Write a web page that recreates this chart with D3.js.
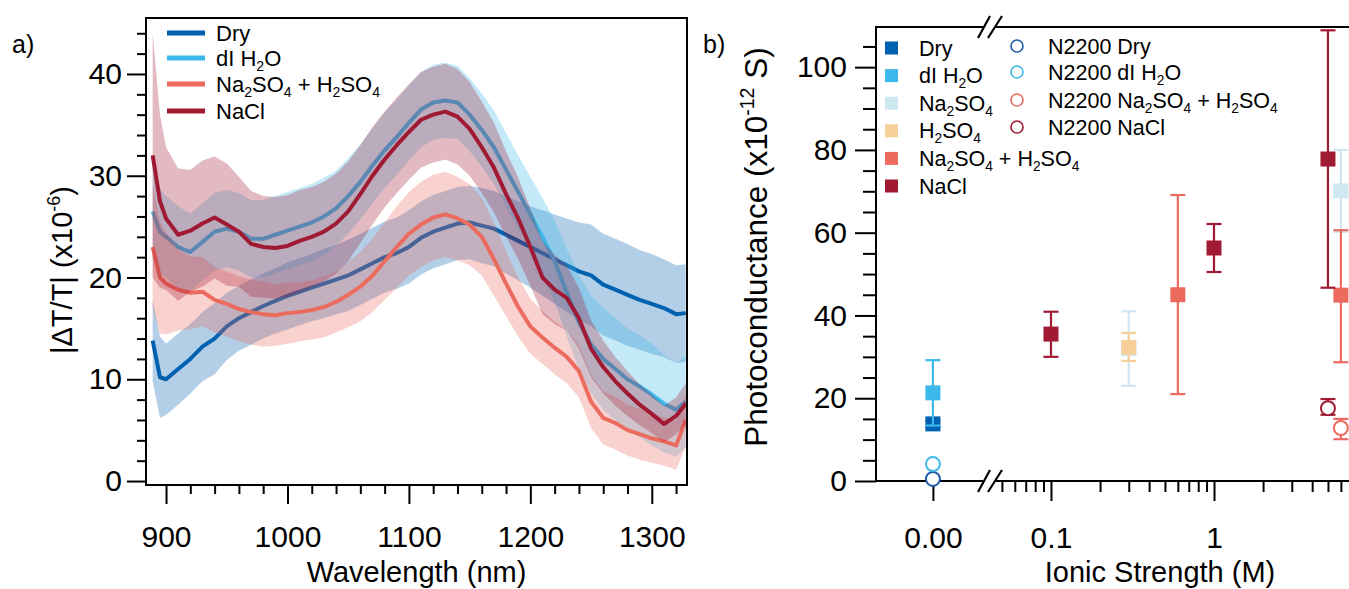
<!DOCTYPE html>
<html>
<head>
<meta charset="utf-8">
<script src="https://cdn.jsdelivr.net/npm/d3@7"></script>
<style>
  body { margin: 0; background: #fff; }
  svg { font-family: "Liberation Sans", Arial, sans-serif; }
</style>
</head>
<body>
<script>

// ---- panel a : transient transmission spectra ----
const wavelength = [889, 895, 900, 910, 920, 930, 940, 950, 960, 970, 980, 990, 1000, 1010, 1020, 1030, 1040, 1050, 1060, 1070, 1080, 1090, 1100, 1110, 1120, 1130, 1140, 1150, 1160, 1170, 1180, 1190, 1200, 1210, 1220, 1230, 1240, 1250, 1260, 1270, 1280, 1290, 1300, 1310, 1320, 1328];

const dryMean = [13.8, 10.2, 10.0, 11.0, 12.0, 13.2, 14.0, 15.2, 16.0, 16.6, 17.2, 17.7, 18.2, 18.6, 19.0, 19.4, 19.8, 20.2, 20.8, 21.4, 22.0, 22.4, 23.0, 23.9, 24.5, 24.9, 25.3, 25.4, 25.1, 24.8, 24.2, 23.6, 23.0, 22.4, 21.8, 21.2, 20.6, 20.2, 19.3, 18.8, 18.3, 17.8, 17.4, 17.0, 16.4, 16.5];
const drySd = [4.0, 4.0, 3.5, 3.5, 3.4, 3.4, 3.5, 3.3, 3.2, 3.2, 3.2, 3.2, 3.3, 3.3, 3.3, 3.4, 3.4, 3.5, 3.5, 3.5, 3.5, 3.5, 3.6, 3.6, 3.6, 3.6, 3.6, 3.6, 3.7, 3.7, 3.8, 3.9, 4.0, 4.2, 4.4, 4.6, 4.8, 5.0, 5.0, 5.0, 5.0, 4.9, 4.9, 4.8, 4.8, 4.8];

const waterMean = [26.5, 24.5, 24.0, 23.0, 22.5, 23.5, 24.5, 24.8, 24.5, 23.8, 23.8, 24.2, 24.6, 25.0, 25.4, 26.0, 26.8, 28.0, 29.4, 31.0, 32.5, 33.8, 35.2, 36.5, 37.2, 37.4, 37.2, 36.0, 34.5, 32.8, 30.6, 28.4, 26.2, 24.0, 21.6, 18.5, 15.6, 13.4, 12.0, 11.0, 10.0, 9.3, 8.5, 7.6, 7.0, 7.8];
const waterSd = [4.5, 4.2, 4.0, 4.0, 3.8, 3.8, 3.8, 3.8, 3.8, 3.8, 3.8, 3.8, 3.8, 3.8, 3.8, 3.8, 3.7, 3.7, 3.7, 3.7, 3.7, 3.7, 3.7, 3.7, 3.7, 3.7, 3.6, 3.6, 3.6, 3.6, 3.6, 3.6, 3.7, 3.8, 4.0, 4.3, 4.6, 4.8, 5.0, 5.0, 5.0, 5.0, 5.0, 4.8, 4.6, 4.5];

const mixMean = [23.0, 20.0, 19.4, 18.8, 18.5, 18.6, 17.8, 17.4, 16.9, 16.6, 16.4, 16.3, 16.5, 16.6, 16.8, 17.1, 17.6, 18.3, 19.1, 20.2, 21.6, 23.0, 24.3, 25.2, 25.9, 26.2, 25.8, 25.2, 24.0, 21.8, 19.4, 17.1, 15.2, 14.1, 13.1, 12.2, 10.8, 7.8, 6.2, 5.7, 5.0, 4.6, 4.2, 3.9, 3.5, 6.0];
const mixSd = [6.0, 5.5, 5.0, 4.0, 3.6, 3.4, 3.2, 3.2, 3.2, 3.2, 3.2, 3.0, 3.0, 2.9, 2.9, 3.0, 3.0, 3.2, 3.4, 3.6, 3.8, 4.0, 4.1, 4.2, 4.2, 4.2, 4.1, 4.0, 3.8, 3.6, 3.2, 2.9, 2.7, 2.6, 2.6, 2.6, 2.6, 2.6, 2.6, 2.6, 2.5, 2.5, 2.4, 2.4, 2.4, 2.6];

const naclMean = [32.0, 27.5, 25.8, 24.2, 24.6, 25.3, 25.9, 25.2, 24.5, 23.3, 23.0, 22.9, 23.1, 23.6, 24.0, 24.5, 25.3, 26.5, 28.2, 30.0, 31.6, 33.0, 34.3, 35.5, 36.0, 36.3, 35.8, 34.6, 32.8, 30.8, 28.2, 25.8, 23.0, 20.0, 18.8, 18.0, 16.0, 13.0, 11.2, 9.8, 8.6, 7.5, 6.6, 5.6, 6.4, 7.6];
const naclSd = [12.0, 8.5, 7.0, 6.5, 6.0, 6.2, 6.0, 6.0, 5.4, 5.2, 5.0, 5.0, 5.0, 5.0, 4.9, 4.9, 4.9, 4.9, 4.8, 4.8, 4.7, 4.7, 4.7, 4.7, 4.7, 4.7, 4.7, 4.6, 4.5, 4.4, 4.2, 4.0, 3.8, 3.6, 3.4, 3.2, 3.0, 2.8, 2.6, 2.4, 2.2, 2.0, 1.9, 1.8, 1.8, 2.0];

const spectraNames = ['Dry', 'dI H_2O', 'Na_2SO_4 + H_2SO_4', 'NaCl'];
const spectraColors = ['#0061b0', '#3cb8ea', '#ec6b5f', '#a11a33'];
const spectraMean = [dryMean, waterMean, mixMean, naclMean];
const spectraSd = [drySd, waterSd, mixSd, naclSd];

// ---- panel b : photoconductance ----
const pointSeries = ['Dry', 'dI H_2O', 'Na_2SO_4', 'Na_2SO_4', 'H_2SO_4', 'Na_2SO_4 + H_2SO_4', 'Na_2SO_4 + H_2SO_4', 'NaCl', 'NaCl', 'NaCl'];
const pointIonic = [0, 0, 0.3, 6, 0.3, 0.6, 6, 0.1, 1, 5];
const pointValue = [13.8, 21.3, 32.0, 70.1, 32.3, 45.0, 44.9, 35.5, 56.3, 77.8];
const pointLow = [13.0, 13.4, 23.0, 60.2, 29.0, 21.0, 28.7, 30.0, 50.5, 46.7];
const pointHigh = [14.6, 29.2, 41.0, 80.0, 35.8, 69.1, 60.6, 40.9, 62.1, 108.9];

const filmSeries = ['N2200 Dry', 'N2200 dI H_2O', 'N2200 Na_2SO_4 + H_2SO_4', 'N2200 NaCl'];
const filmIonic = [0, 0, 6, 5];
const filmValue = [0.5, 4.1, 12.8, 17.6];
const filmLow = [null, null, 10.1, 16.0];
const filmHigh = [null, null, 15.0, 19.8];

const squareNames = ['Dry', 'dI H_2O', 'Na_2SO_4', 'H_2SO_4', 'Na_2SO_4 + H_2SO_4', 'NaCl'];
const squareColors = ['#0061b0', '#3cb8ea', '#cfe7f1', '#f7cf9b', '#ec6b5f', '#a11a33'];
const circleColors = ['#1e5aa5', '#3cb8ea', '#ec6b5f', '#a11a33'];

const svg = d3.select('body').append('svg')
  .attr('width', 1349).attr('height', 589);

// writes "Na_2SO_4" style labels with subscripts
function chem(sel, label) {
  let shift = 0;
  label.split(/(_\d)/).filter(p => p !== '').forEach(p => {
    const t = sel.append('tspan');
    if (p[0] === '_') {
      t.attr('font-size', '0.64em').attr('dy', 5 - shift).text(p[1]);
      shift = 5;
    } else {
      if (shift) t.attr('dy', -shift);
      t.text(p);
      shift = 0;
    }
  });
}

function styleAxis(g, fs) {
  g.selectAll('path, line').attr('stroke', '#000').attr('stroke-width', 2);
  g.selectAll('text').attr('font-size', fs).attr('fill', '#000')
    .attr('font-family', '"Liberation Sans", Arial, sans-serif');
}

// ================= panel a =================
const ax = { left: 146, right: 687, top: 18, bottom: 485 };
const x = d3.scaleLinear().domain([883.5, 1329]).range([ax.left, ax.right]);
const y = d3.scaleLinear().domain([-0.39, 45.5]).range([ax.bottom, ax.top]);

svg.append('clipPath').attr('id', 'clipA')
  .append('rect').attr('x', ax.left).attr('y', ax.top)
  .attr('width', ax.right - ax.left).attr('height', ax.bottom - ax.top);

const plotA = svg.append('g').attr('clip-path', 'url(#clipA)');

spectraMean.forEach((mean, s) => {
  const sd = spectraSd[s];
  const pts = wavelength.map((w, i) => ({ w: w, m: mean[i], sd: sd[i] }));
  const area = d3.area()
    .x(d => x(d.w))
    .y0(d => y(d.m - d.sd))
    .y1(d => y(d.m + d.sd));
  const line = d3.line().x(d => x(d.w)).y(d => y(d.m));
  plotA.append('path').datum(pts)
    .attr('d', area)
    .attr('fill', spectraColors[s])
    .attr('fill-opacity', 0.3);
  plotA.append('path').datum(pts)
    .attr('d', line)
    .attr('fill', 'none')
    .attr('stroke', spectraColors[s])
    .attr('stroke-width', 4)
    .attr('stroke-linejoin', 'round');
});

svg.append('rect')
  .attr('x', ax.left).attr('y', ax.top)
  .attr('width', ax.right - ax.left).attr('height', ax.bottom - ax.top)
  .attr('fill', 'none').attr('stroke', '#000').attr('stroke-width', 2);

const yMajorA = [0, 10, 20, 30, 40];
const yMinorA = d3.range(2, 45, 2).filter(v => v % 10 !== 0);
const xMajorA = [900, 1000, 1100, 1200, 1300];
const xMinorA = d3.range(920, 1321, 20).filter(v => v % 100 !== 0);

svg.append('g').attr('transform', `translate(${ax.left},0)`)
  .call(d3.axisLeft(y).tickValues(yMinorA).tickSize(9).tickSizeOuter(0).tickFormat(''))
  .call(g => g.select('.domain').remove())
  .call(g => styleAxis(g, 30));
svg.append('g').attr('transform', `translate(${ax.left},0)`)
  .call(d3.axisLeft(y).tickValues(yMajorA).tickSize(19).tickSizeOuter(0).tickPadding(5))
  .call(g => g.select('.domain').remove())
  .call(g => styleAxis(g, 30));

svg.append('g').attr('transform', `translate(0,${ax.bottom})`)
  .call(d3.axisBottom(x).tickValues(xMinorA).tickSize(9).tickSizeOuter(0).tickFormat(''))
  .call(g => g.select('.domain').remove())
  .call(g => styleAxis(g, 30));
svg.append('g').attr('transform', `translate(0,${ax.bottom})`)
  .call(d3.axisBottom(x).tickValues(xMajorA).tickSize(19).tickSizeOuter(0).tickPadding(22).tickFormat(d3.format('d')))
  .call(g => g.select('.domain').remove())
  .call(g => styleAxis(g, 30));

svg.append('text').attr('x', 12).attr('y', 53).attr('font-size', 25).text('a)');

const yTitleA = svg.append('text')
  .attr('transform', 'translate(72,270) rotate(-90)')
  .attr('text-anchor', 'middle').attr('font-size', 29);
yTitleA.append('tspan').text('|ΔT/T| (x10');
yTitleA.append('tspan').attr('font-size', '0.62em').attr('dy', -12).text('-6');
yTitleA.append('tspan').attr('dy', 12).text(')');

svg.append('text').attr('x', (ax.left + ax.right) / 2).attr('y', 582)
  .attr('text-anchor', 'middle').attr('font-size', 29).text('Wavelength (nm)');

// legend a
const legA = svg.append('g');
spectraNames.forEach((name, i) => {
  const cy = [33, 58, 84, 111][i];
  legA.append('line').attr('x1', 167).attr('x2', 205).attr('y1', cy).attr('y2', cy)
    .attr('stroke', spectraColors[i]).attr('stroke-width', 5);
  const t = legA.append('text').attr('x', 216).attr('y', cy + 8).attr('font-size', 22);
  chem(t, name);
});

// ================= panel b =================
const bx = { left: 876, top: 27, bottom: 481, right: 1349 };
const yb = d3.scaleLinear().domain([0, 109.7]).range([bx.bottom, bx.top]);
const xZero = d3.scaleLinear().domain([-1, 0.88]).range([876, 983]);
const xLog = d3.scaleLog().domain([0.046, 6.73]).range([996, 1349]);
const xb = v => (v === 0 ? xZero(0) : xLog(v));

// axis lines
svg.append('line').attr('x1', bx.left).attr('x2', bx.left).attr('y1', bx.top).attr('y2', bx.bottom)
  .attr('stroke', '#000').attr('stroke-width', 2);
[bx.top, bx.bottom].forEach(yy => {
  svg.append('line').attr('x1', bx.left - 1).attr('x2', 983).attr('y1', yy).attr('y2', yy)
    .attr('stroke', '#000').attr('stroke-width', 2);
  svg.append('line').attr('x1', 996).attr('x2', bx.right).attr('y1', yy).attr('y2', yy)
    .attr('stroke', '#000').attr('stroke-width', 2);
  [[978, 990], [988, 1002]].forEach(([x1, x2]) => {
    svg.append('line').attr('x1', x1).attr('y1', yy + 11).attr('x2', x2).attr('y2', yy - 11)
      .attr('stroke', '#000').attr('stroke-width', 2.2);
  });
});

const yMajorB = [0, 20, 40, 60, 80, 100];
const yMinorB = d3.range(5, 106, 5).filter(v => v % 20 !== 0);
svg.append('g').attr('transform', `translate(${bx.left},0)`)
  .call(d3.axisLeft(yb).tickValues(yMinorB).tickSize(13).tickSizeOuter(0).tickFormat(''))
  .call(g => g.select('.domain').remove())
  .call(g => styleAxis(g, 30));
svg.append('g').attr('transform', `translate(${bx.left},0)`)
  .call(d3.axisLeft(yb).tickValues(yMajorB).tickSize(21).tickSizeOuter(0).tickPadding(8))
  .call(g => g.select('.domain').remove())
  .call(g => styleAxis(g, 30));

svg.append('g').attr('transform', `translate(0,${bx.bottom})`)
  .call(d3.axisBottom(xZero).tickValues([0]).tickSize(20).tickSizeOuter(0).tickPadding(26).tickFormat(d3.format('.2f')))
  .call(g => g.select('.domain').remove())
  .call(g => styleAxis(g, 30));

const logMinor = [0.05, 0.06, 0.07, 0.08, 0.09, 0.2, 0.3, 0.4, 0.5, 0.6, 0.7, 0.8, 0.9, 2, 3, 4, 5, 6];
const logMajor = [0.1, 1];
svg.append('g').attr('transform', `translate(0,${bx.bottom})`)
  .call(d3.axisBottom(xLog).tickValues(logMinor).tickSize(11).tickSizeOuter(0).tickFormat(''))
  .call(g => g.select('.domain').remove())
  .call(g => styleAxis(g, 30));
svg.append('g').attr('transform', `translate(0,${bx.bottom})`)
  .call(d3.axisBottom(xLog).tickValues(logMajor).tickSize(20).tickSizeOuter(0).tickPadding(26).tickFormat(d3.format('')))
  .call(g => g.select('.domain').remove())
  .call(g => styleAxis(g, 30));

svg.append('text').attr('x', 703).attr('y', 53).attr('font-size', 25).text('b)');

const yTitleB = svg.append('text')
  .attr('transform', 'translate(767,247) rotate(-90)')
  .attr('text-anchor', 'middle').attr('font-size', 31.5);
yTitleB.append('tspan').text('Photoconductance (x10');
yTitleB.append('tspan').attr('font-size', '0.62em').attr('dy', -13).text('-12');
yTitleB.append('tspan').attr('dy', 13).text(' S)');

svg.append('text').attr('x', 1160).attr('y', 582)
  .attr('text-anchor', 'middle').attr('font-size', 29).text('Ionic Strength (M)');

const plotB = svg.append('g');
const cap = 7.5;

function errorBar(g, cx, lo, hi, color) {
  g.append('line').attr('x1', cx).attr('x2', cx).attr('y1', yb(lo)).attr('y2', yb(hi))
    .attr('stroke', color).attr('stroke-width', 2.2);
  [lo, hi].forEach(v => {
    g.append('line').attr('x1', cx - cap).attr('x2', cx + cap).attr('y1', yb(v)).attr('y2', yb(v))
      .attr('stroke', color).attr('stroke-width', 2.2);
  });
}

// open circles (N2200 films)
filmSeries.forEach((name, i) => {
  const cx = xb(filmIonic[i]);
  const c = circleColors[i];
  if (filmLow[i] !== null) errorBar(plotB, cx, filmLow[i], filmHigh[i], c);
  plotB.append('circle').attr('cx', cx).attr('cy', yb(filmValue[i])).attr('r', 7)
    .attr('fill', '#fff').attr('stroke', c).attr('stroke-width', 2);
});

// filled squares
pointSeries.forEach((name, i) => {
  const c = squareColors[squareNames.indexOf(name)];
  const cx = xb(pointIonic[i]);
  errorBar(plotB, cx, pointLow[i], pointHigh[i], c);
  plotB.append('rect').attr('x', cx - 7.5).attr('y', yb(pointValue[i]) - 7.5)
    .attr('width', 15).attr('height', 15).attr('fill', c);
});

// legend b
const legB = svg.append('g');
squareNames.forEach((name, i) => {
  const cy = 48 + i * 27.6;
  legB.append('rect').attr('x', 885).attr('y', cy - 6.5).attr('width', 13).attr('height', 13)
    .attr('fill', squareColors[i]);
  const t = legB.append('text').attr('x', 919).attr('y', cy + 7.5).attr('font-size', 21.5);
  chem(t, name);
});
filmSeries.forEach((name, i) => {
  const cy = [46, 72, 100, 127][i];
  legB.append('circle').attr('cx', 1017).attr('cy', cy).attr('r', 6)
    .attr('fill', '#fff').attr('stroke', circleColors[i]).attr('stroke-width', 1.6);
  const t = legB.append('text').attr('x', 1048).attr('y', cy + 7.5).attr('font-size', 21.5);
  chem(t, name);
});

</script>
</body>
</html>
